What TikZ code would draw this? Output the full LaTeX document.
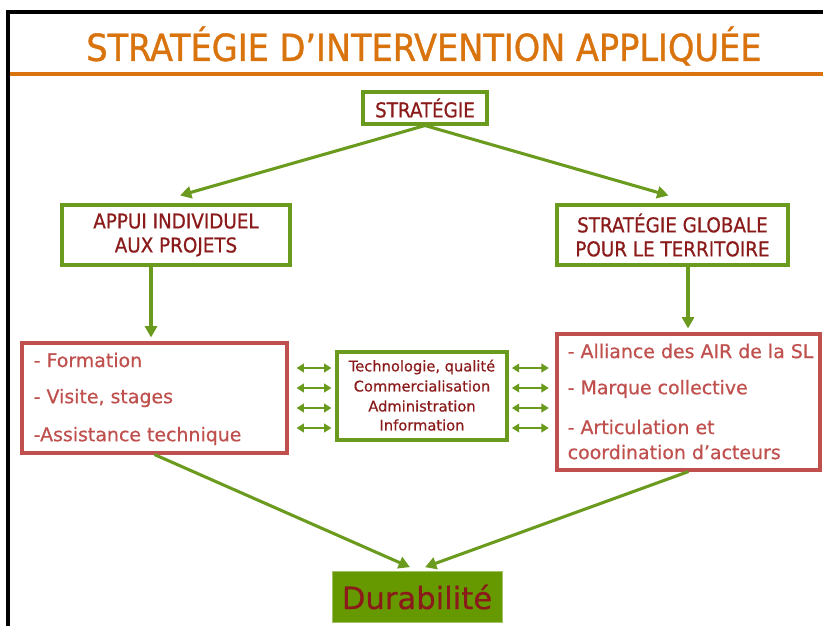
\documentclass[tikz,border=0pt]{standalone}
\usepackage{fontspec}
\setmainfont[FakeBold=0.5]{DejaVu Sans}
\newfontfamily\titlefont[FakeBold=1.0]{DejaVu Sans Condensed}
\newfontfamily\capfont[FakeBold=0.7]{DejaVu Sans Condensed}
\usetikzlibrary{arrows.meta}
\definecolor{grn}{HTML}{6B9B1E}
\definecolor{dred}{HTML}{8B1A1A}
\definecolor{rbox}{HTML}{C0504D}
\definecolor{rtxt}{HTML}{C0504D}
\definecolor{orng}{HTML}{D9730D}
\definecolor{dgrn}{HTML}{669900}
\tikzset{
  gbox/.style={draw=grn, line width=2.3pt, fill=white, inner sep=0pt, align=center, text=dred},
  rboxs/.style={draw=rbox, line width=2.3pt, fill=white, inner sep=0pt},
  arr/.style={draw=grn, line width=2.3pt, -{Triangle[length=8.5pt,width=9pt]}},
  darr/.style={draw=grn, line width=2pt, {Triangle[length=5.5pt,width=6.5pt]}-{Triangle[length=5.5pt,width=6.5pt]}},
  rtext/.style={text=rtxt, anchor=west, font=\fontsize{14.2}{15}\selectfont},
  mtext/.style={text=dred, font=\fontsize{11}{12}\selectfont},
  captext/.style={font=\capfont\fontsize{15.3}{18}\selectfont},
}
\begin{document}
\begin{tikzpicture}[x=0.75pt,y=-0.75pt]
\useasboundingbox (0,0) rectangle (823,626);
% frame
\draw[black, line width=2.3pt] (8,626) -- (8,12) -- (823,12);
\draw[orng, line width=2.3pt] (10,74) -- (823,74);
\node[text=orng, font=\titlefont\fontsize{28}{30}\selectfont] (title) at (424,46) {STRATÉGIE D’INTERVENTION APPLIQUÉE};
% boxes
\node[gbox, captext, minimum width=124*0.75pt, minimum height=32*0.75pt] (strat) at (425,108) {STRATÉGIE};
\node[gbox, captext, minimum width=228*0.75pt, minimum height=60*0.75pt] (appui) at (176,235) {APPUI INDIVIDUEL\\AUX PROJETS};
\node[gbox, captext, minimum width=231*0.75pt, minimum height=60*0.75pt] (glob) at (672.5,235) {STRATÉGIE GLOBALE\\POUR LE TERRITOIRE};
\node[rboxs, minimum width=265*0.75pt, minimum height=110*0.75pt] (lbox) at (154.5,398) {};
\node[rtext] (l1) at (29,360) {- Formation};
\node[rtext] (l2) at (29,398) {- Visite, stages};
\node[rtext] (l3) at (29,436) {-Assistance technique};
\node[gbox, minimum width=170*0.75pt, minimum height=88*0.75pt] (mid) at (422,396) {};
\node[mtext] (m1) at (422,367) {Technologie, qualité};
\node[mtext] (m2) at (422,386) {Commercialisation};
\node[mtext] (m3) at (422,406) {Administration};
\node[mtext] (m4) at (422,425) {Information};
\node[rboxs, minimum width=263*0.75pt, minimum height=136*0.75pt] (rbox) at (688.5,402) {};
\node[rtext] (r1) at (563,351) {- Alliance des AIR de la SL};
\node[rtext] (r2) at (563,389) {- Marque collective};
\node[rtext] (r3) at (563,427) {- Articulation et};
\node[rtext] (r4) at (563,452) {coordination d’acteurs};
\node[fill=dgrn, draw=dgrn!60, line width=0.5pt, minimum width=170*0.75pt, minimum height=51*0.75pt, text=dred, font=\fontsize{23}{24}\selectfont] (dura) at (417,597) {Durabilité};
% arrows
\draw[arr] (strat.south) -- ([xshift=4*0.75pt, yshift=6pt]appui.north);
\draw[arr] (strat.south) -- ([xshift=-4*0.75pt, yshift=6pt]glob.north);
\draw[arr] (appui.south -| 151,0) -- ([yshift=3pt]lbox.north -| 151,0);
\draw[arr] (glob.south -| 688,0) -- ([yshift=3pt]rbox.north -| 688,0);
\draw[arr] (lbox.south) -- ([xshift=-7*0.75pt, yshift=3pt]dura.north);
\draw[arr] (rbox.south) -- ([xshift=8*0.75pt, yshift=3pt]dura.north);
\foreach \yy in {368,388,408,428}{
  \draw[darr, shorten <=6pt, shorten >=3pt] (lbox.east |- 0,\yy) -- (mid.west |- 0,\yy);
  \draw[darr, shorten <=2.5pt, shorten >=5pt] (mid.east |- 0,\yy) -- (rbox.west |- 0,\yy);
}
\end{tikzpicture}
\end{document}
